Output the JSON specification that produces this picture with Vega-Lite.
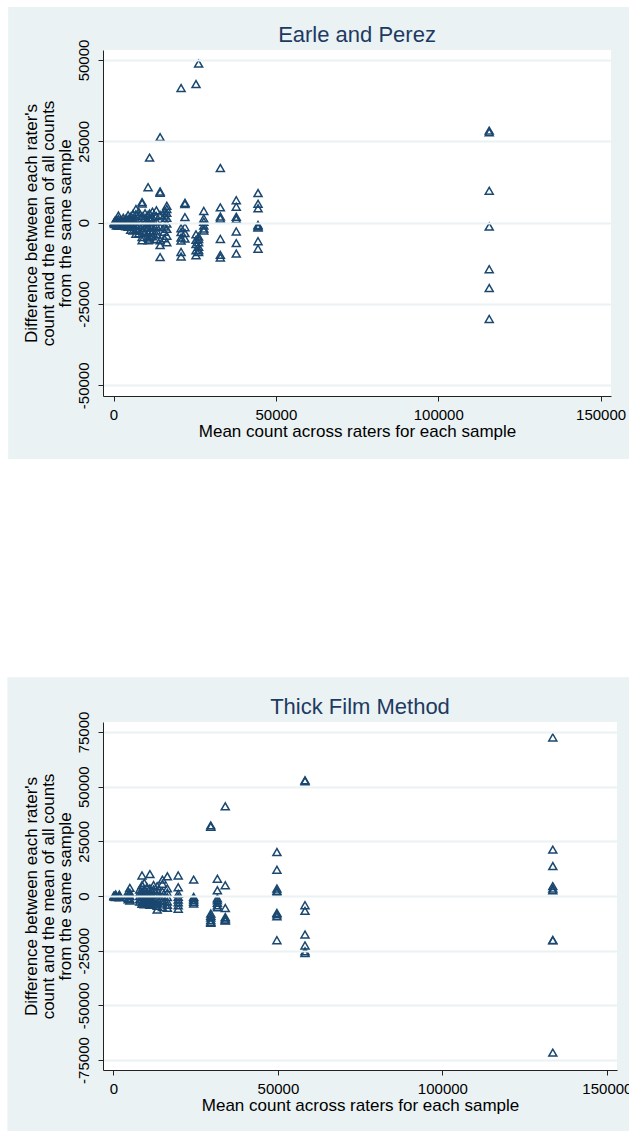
{
  "$schema": "https://vega.github.io/schema/vega-lite/v6.json",
  "background": "white",
  "padding": {"left": 7, "top": 7, "right": 0, "bottom": 0},
  "spacing": 218,
  "config": {
    "locale": {"number": {"decimal": ".", "thousands": ",", "grouping": [3], "currency": ["$", ""], "minus": "-"}},
    "view": {"stroke": null},
    "font": "Liberation Sans",
    "axis": {"domainColor": "#222222", "domainWidth": 1, "tickColor": "#222222", "tickSize": 5, "tickWidth": 1, "labelFontSize": 15, "labelColor": "#000000", "titleFontSize": 17, "titleFontWeight": "normal", "titleColor": "#000000", "gridColor": "#EAF2F3", "gridWidth": 2, "labelFont": "Liberation Sans", "titleFont": "Liberation Sans", "labelOverlap": false, "labelFlush": false},
    "axisX": {"grid": false, "labelPadding": 6, "titlePadding": 1},
    "axisY": {"grid": true, "labelAngle": -90, "labelAlign": "center", "labelBaseline": "bottom", "labelPadding": 7, "titlePadding": 2, "titleLineHeight": 17},
    "title": {"fontSize": 22, "font": "Liberation Sans", "fontWeight": "normal", "color": "#1E3A62", "anchor": "middle", "frame": "group", "baseline": "alphabetic"}
  },
  "datasets": {
    "earle": [
      {"x":115700,"d":28300},{"x":115700,"d":27800},{"x":115700,"d":9800},{"x":115700,"d":-1200},{"x":115700,"d":-14300},{"x":115700,"d":-20100},{"x":115700,"d":-29600},
      {"x":44500,"d":9100},{"x":44500,"d":5800},{"x":44500,"d":4400},{"x":44500,"d":-700},{"x":44500,"d":-1100},{"x":44500,"d":-1500},{"x":44500,"d":-5700},{"x":44500,"d":-8000},
      {"x":37800,"d":6900},{"x":37800,"d":4900},{"x":37800,"d":1800},{"x":37800,"d":1100},{"x":37800,"d":-2700},{"x":37800,"d":-6300},{"x":37800,"d":-9500},
      {"x":32900,"d":16800},{"x":32900,"d":4700},{"x":32900,"d":1900},{"x":32900,"d":1300},{"x":32900,"d":-5000},{"x":32900,"d":-9900},{"x":32900,"d":-10700},
      {"x":27800,"d":3600},{"x":27800,"d":1300},{"x":27800,"d":300},{"x":27800,"d":-900},{"x":27800,"d":-1800},{"x":27800,"d":-2400},
      {"x":26200,"d":48900},{"x":26200,"d":-4300},{"x":26200,"d":-5000},{"x":26200,"d":-6000},{"x":26200,"d":-7400},{"x":26200,"d":-8400},{"x":26200,"d":-9000},
      {"x":25400,"d":42600},{"x":25400,"d":-3600},{"x":25400,"d":-5300},{"x":25400,"d":-6600},{"x":25400,"d":-8500},{"x":25400,"d":-10000},
      {"x":22000,"d":6100},{"x":22000,"d":5700},{"x":22000,"d":1700},{"x":22000,"d":-1400},{"x":22000,"d":-3200},{"x":22000,"d":-4900},
      {"x":20800,"d":41400},{"x":20800,"d":-1700},{"x":20800,"d":-2900},{"x":20800,"d":-4600},{"x":20800,"d":-5500},{"x":20800,"d":-9000},{"x":20800,"d":-10400},
      {"x":16400,"d":5200},{"x":16400,"d":4200},{"x":16400,"d":3000},{"x":16400,"d":1500},{"x":16400,"d":-300},{"x":16400,"d":-1900},{"x":16400,"d":-4000},{"x":16400,"d":-6000},
      {"x":15600,"d":3500},{"x":15600,"d":2200},{"x":15600,"d":800},{"x":15600,"d":-1200},{"x":15600,"d":-2800},{"x":15600,"d":-4800},
      {"x":14350,"d":26300},{"x":14350,"d":9600},{"x":14350,"d":9200},{"x":14350,"d":2400},{"x":14350,"d":-1400},{"x":14350,"d":-5400},{"x":14350,"d":-6900},{"x":14350,"d":-10600},
      {"x":13200,"d":3800},{"x":13200,"d":2000},{"x":13200,"d":500},{"x":13200,"d":-1000},{"x":13200,"d":-2400},{"x":13200,"d":-3600},{"x":13200,"d":-5000},
      {"x":12000,"d":3400},{"x":12000,"d":1600},{"x":12000,"d":200},{"x":12000,"d":-1300},{"x":12000,"d":-2700},{"x":12000,"d":-4200},
      {"x":11100,"d":20000},{"x":11100,"d":2800},{"x":11100,"d":1000},{"x":11100,"d":-600},{"x":11100,"d":-2500},{"x":11100,"d":-4100},{"x":11100,"d":-5200},
      {"x":10650,"d":10900},{"x":10650,"d":2400},{"x":10650,"d":500},{"x":10650,"d":-1400},{"x":10650,"d":-3100},{"x":10650,"d":-4600},{"x":10650,"d":-5400},
      {"x":9700,"d":2900},{"x":9700,"d":1500},{"x":9700,"d":-200},{"x":9700,"d":-1600},{"x":9700,"d":-3000},
      {"x":8800,"d":6300},{"x":8800,"d":5900},{"x":8800,"d":2000},{"x":8800,"d":-900},{"x":8800,"d":-2500},{"x":8800,"d":-4400},{"x":8800,"d":-5400},
      {"x":7800,"d":3300},{"x":7800,"d":2100},{"x":7800,"d":700},{"x":7800,"d":-800},{"x":7800,"d":-2200},{"x":7800,"d":-3300},
      {"x":6900,"d":4200},{"x":6900,"d":2600},{"x":6900,"d":1000},{"x":6900,"d":-600},{"x":6900,"d":-1900},{"x":6900,"d":-3400},
      {"x":6000,"d":2700},{"x":6000,"d":1400},{"x":6000,"d":200},{"x":6000,"d":-1000},{"x":6000,"d":-2400},
      {"x":5300,"d":1900},{"x":5300,"d":900},{"x":5300,"d":-300},{"x":5300,"d":-1200},{"x":5300,"d":-2200},
      {"x":4500,"d":2300},{"x":4500,"d":1100},{"x":4500,"d":0},{"x":4500,"d":-1300},
      {"x":3800,"d":1200},{"x":3800,"d":400},{"x":3800,"d":-500},{"x":3800,"d":-1100},
      {"x":3000,"d":1500},{"x":3000,"d":600},{"x":3000,"d":-300},{"x":3000,"d":-1000},
      {"x":2200,"d":900},{"x":2200,"d":300},{"x":2200,"d":-400},{"x":2200,"d":-800},
      {"x":1500,"d":2200},{"x":1500,"d":1100},{"x":1500,"d":200},{"x":1500,"d":-700},{"x":1500,"d":-1000},
      {"x":900,"d":1000},{"x":900,"d":300},{"x":900,"d":-300},{"x":900,"d":-900},
      {"x":400,"d":500},{"x":400,"d":100},{"x":400,"d":-200},{"x":400,"d":-400},
      {"x":200,"d":200},{"x":200,"d":-100}
    ],
    "thick": [
      {"x":133560,"d":72500},{"x":133560,"d":21200},{"x":133560,"d":13700},{"x":133560,"d":4500},{"x":133560,"d":3400},{"x":133560,"d":2600},{"x":133560,"d":-20100},{"x":133560,"d":-20300},{"x":133560,"d":-71600},
      {"x":58240,"d":52900},{"x":58240,"d":52500},{"x":58240,"d":-4200},{"x":58240,"d":-6800},{"x":58240,"d":-17600},{"x":58240,"d":-22600},{"x":58240,"d":-25300},{"x":58240,"d":-26100},
      {"x":49700,"d":20100},{"x":49700,"d":12000},{"x":49700,"d":3400},{"x":49700,"d":2400},{"x":49700,"d":1700},{"x":49700,"d":-7700},{"x":49700,"d":-8400},{"x":49700,"d":-9300},{"x":49700,"d":-20200},
      {"x":34000,"d":41000},{"x":34000,"d":4900},{"x":34000,"d":-5500},{"x":34000,"d":-9600},{"x":34000,"d":-10300},{"x":34000,"d":-11000},{"x":34000,"d":-11200},
      {"x":31600,"d":7900},{"x":31600,"d":2600},{"x":31600,"d":-1000},{"x":31600,"d":-2000},{"x":31600,"d":-3100},{"x":31600,"d":-4300},{"x":31600,"d":-5200},
      {"x":29600,"d":32300},{"x":29600,"d":31700},{"x":29600,"d":-8000},{"x":29600,"d":-9000},{"x":29600,"d":-9900},{"x":29600,"d":-11000},{"x":29600,"d":-11800},{"x":29600,"d":-12200},
      {"x":24400,"d":7500},{"x":24400,"d":-400},{"x":24400,"d":-1100},{"x":24400,"d":-1900},{"x":24400,"d":-2700},{"x":24400,"d":-3500},
      {"x":19700,"d":9400},{"x":19700,"d":4000},{"x":19700,"d":1000},{"x":19700,"d":-400},{"x":19700,"d":-1600},{"x":19700,"d":-2900},{"x":19700,"d":-4300},{"x":19700,"d":-5800},
      {"x":16400,"d":9000},{"x":16400,"d":3500},{"x":16400,"d":1500},{"x":16400,"d":-500},{"x":16400,"d":-2500},{"x":16400,"d":-4000},{"x":16400,"d":-5400},
      {"x":14900,"d":7500},{"x":14900,"d":5600},{"x":14900,"d":2000},{"x":14900,"d":0},{"x":14900,"d":-2000},{"x":14900,"d":-3500},{"x":14900,"d":-5000},
      {"x":13300,"d":4500},{"x":13300,"d":2500},{"x":13300,"d":800},{"x":13300,"d":-1200},{"x":13300,"d":-3000},{"x":13300,"d":-4500},{"x":13300,"d":-6200},
      {"x":12200,"d":5000},{"x":12200,"d":3000},{"x":12200,"d":1000},{"x":12200,"d":-900},{"x":12200,"d":-2400},{"x":12200,"d":-3800},
      {"x":11100,"d":10000},{"x":11100,"d":3500},{"x":11100,"d":1500},{"x":11100,"d":-500},{"x":11100,"d":-2000},{"x":11100,"d":-3300},{"x":11100,"d":-4000},
      {"x":10200,"d":4000},{"x":10200,"d":2000},{"x":10200,"d":600},{"x":10200,"d":-1000},{"x":10200,"d":-2600},{"x":10200,"d":-3500},
      {"x":9400,"d":6000},{"x":9400,"d":3000},{"x":9400,"d":1200},{"x":9400,"d":-400},{"x":9400,"d":-1800},{"x":9400,"d":-3000},{"x":9400,"d":-3800},
      {"x":8700,"d":9400},{"x":8700,"d":5000},{"x":8700,"d":2000},{"x":8700,"d":0},{"x":8700,"d":-1500},{"x":8700,"d":-2800},{"x":8700,"d":-3600},
      {"x":8000,"d":3000},{"x":8000,"d":1500},{"x":8000,"d":0},{"x":8000,"d":-1500},{"x":8000,"d":-2500},
      {"x":5000,"d":3700},{"x":5000,"d":1500},{"x":5000,"d":0},{"x":5000,"d":-1400},{"x":5000,"d":-2100},
      {"x":4500,"d":2000},{"x":4500,"d":600},{"x":4500,"d":-800},{"x":4500,"d":-1500},
      {"x":1800,"d":700},{"x":1800,"d":200},{"x":1800,"d":-300},{"x":1800,"d":-600},
      {"x":700,"d":700},{"x":700,"d":200},{"x":700,"d":-200},{"x":700,"d":-500},
      {"x":200,"d":300},{"x":200,"d":0},{"x":200,"d":-300}
    ]
  },
  "vconcat": [
    {
      "width": 508,
      "height": 346,
      "title": {"text": "Earle and Perez", "offset": -40},
      "layer": [
        {
          "data": {"values": [{}]},
          "mark": {"type": "rect", "color": "#EAF2F3"},
          "encoding": {
            "x": {"datum": -32434, "type": "quantitative", "scale": {"domain": [-3240, 153200], "nice": false, "zero": false}, "axis": {"zindex": 1, "values": [0, 50000, 100000, 150000], "format": "d", "title": "Mean count across raters for each sample"}},
            "x2": {"datum": 159200},
            "y": {"datum": 66293, "type": "quantitative", "scale": {"domain": [-53290, 53075], "nice": false, "zero": false}, "axis": {"zindex": 1, "values": [-50000, -25000, 0, 25000, 50000], "format": "d", "title": ["Difference between each rater's", "count and the mean of all counts", "from the same sample"]}},
            "y2": {"datum": -72652}
          }
        },
        {
          "data": {"values": [{}]},
          "mark": {"type": "rect", "color": "#FFFFFF"},
          "encoding": {
            "x": {"datum": -3240, "type": "quantitative", "scale": {"domain": [-3240, 153200], "nice": false, "zero": false}, "axis": {"zindex": 1, "values": [0, 50000, 100000, 150000], "format": "d", "title": "Mean count across raters for each sample"}},
            "x2": {"datum": 153200},
            "y": {"datum": -53290, "type": "quantitative", "scale": {"domain": [-53290, 53075], "nice": false, "zero": false}, "axis": {"zindex": 1, "values": [-50000, -25000, 0, 25000, 50000], "format": "d", "title": ["Difference between each rater's", "count and the mean of all counts", "from the same sample"]}},
            "y2": {"datum": 53075}
          }
        },
        {
          "data": {"name": "earle"},
          "mark": {"type": "point", "shape": "triangle-up", "filled": false, "size": 64, "strokeWidth": 1.5, "color": "#1A476F", "opacity": 1},
          "encoding": {
            "x": {"field": "x", "type": "quantitative", "scale": {"domain": [-3240, 153200], "nice": false, "zero": false}, "axis": {"zindex": 1, "values": [0, 50000, 100000, 150000], "format": "d", "title": "Mean count across raters for each sample"}},
            "y": {"field": "d", "type": "quantitative", "scale": {"domain": [-53290, 53075], "nice": false, "zero": false}, "axis": {"zindex": 1, "values": [-50000, -25000, 0, 25000, 50000], "format": "d", "title": ["Difference between each rater's", "count and the mean of all counts", "from the same sample"]}}
          }
        }
      ]
    },
    {
      "width": 514,
      "height": 348,
      "title": {"text": "Thick Film Method", "offset": -42},
      "layer": [
        {
          "data": {"values": [{}]},
          "mark": {"type": "rect", "color": "#EAF2F3"},
          "encoding": {
            "x": {"datum": -32218, "type": "quantitative", "scale": {"domain": [-3160, 153070], "nice": false, "zero": false}, "axis": {"zindex": 1, "values": [0, 50000, 100000, 150000], "format": "d", "title": "Mean count across raters for each sample"}},
            "x2": {"datum": 157500},
            "y": {"datum": 100000, "type": "quantitative", "scale": {"domain": [-79560, 79560], "nice": false, "zero": false}, "axis": {"zindex": 1, "values": [-75000, -50000, -25000, 0, 25000, 50000, 75000], "format": "d", "title": ["Difference between each rater's", "count and the mean of all counts", "from the same sample"]}},
            "y2": {"datum": -109000}
          }
        },
        {
          "data": {"values": [{}]},
          "mark": {"type": "rect", "color": "#FFFFFF"},
          "encoding": {
            "x": {"datum": -3160, "type": "quantitative", "scale": {"domain": [-3160, 153070], "nice": false, "zero": false}, "axis": {"zindex": 1, "values": [0, 50000, 100000, 150000], "format": "d", "title": "Mean count across raters for each sample"}},
            "x2": {"datum": 153070},
            "y": {"datum": -79560, "type": "quantitative", "scale": {"domain": [-79560, 79560], "nice": false, "zero": false}, "axis": {"zindex": 1, "values": [-75000, -50000, -25000, 0, 25000, 50000, 75000], "format": "d", "title": ["Difference between each rater's", "count and the mean of all counts", "from the same sample"]}},
            "y2": {"datum": 79560}
          }
        },
        {
          "data": {"name": "thick"},
          "mark": {"type": "point", "shape": "triangle-up", "filled": false, "size": 64, "strokeWidth": 1.5, "color": "#1A476F", "opacity": 1},
          "encoding": {
            "x": {"field": "x", "type": "quantitative", "scale": {"domain": [-3160, 153070], "nice": false, "zero": false}, "axis": {"zindex": 1, "values": [0, 50000, 100000, 150000], "format": "d", "title": "Mean count across raters for each sample"}},
            "y": {"field": "d", "type": "quantitative", "scale": {"domain": [-79560, 79560], "nice": false, "zero": false}, "axis": {"zindex": 1, "values": [-75000, -50000, -25000, 0, 25000, 50000, 75000], "format": "d", "title": ["Difference between each rater's", "count and the mean of all counts", "from the same sample"]}}
          }
        }
      ]
    }
  ]
}
